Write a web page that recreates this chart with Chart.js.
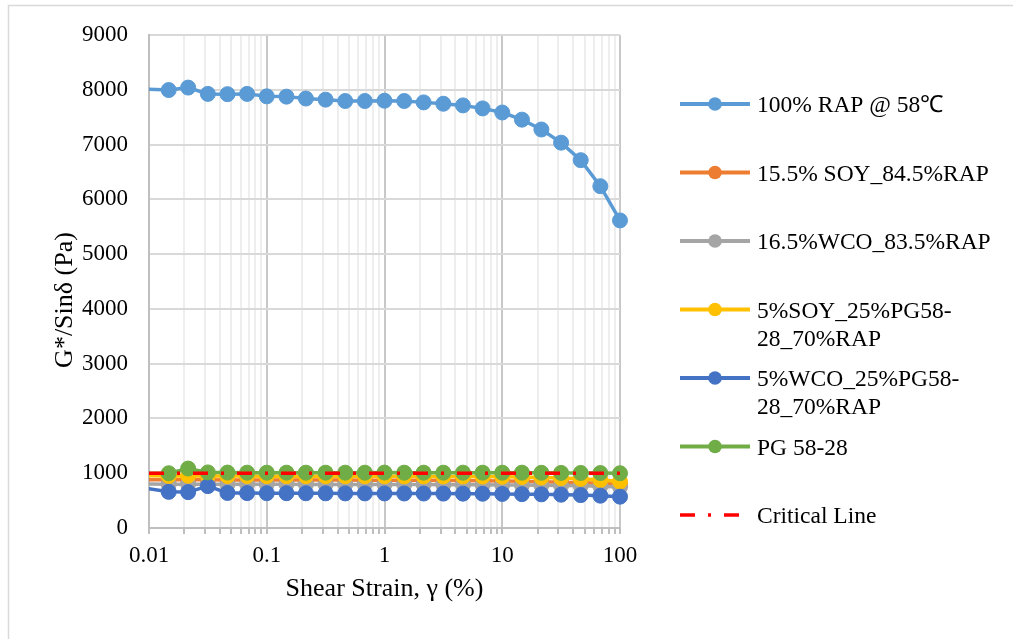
<!DOCTYPE html>
<html>
<head>
<meta charset="utf-8">
<script src="https://cdn.jsdelivr.net/npm/chart.js@4.4.1/dist/chart.umd.min.js"></script>
<style>
  body { margin: 0; background: #fff; }
  #wrap { width: 1013px; height: 639px; }
</style>
</head>
<body>
<div id="wrap"><canvas id="rheoChart" width="1013" height="639"></canvas></div>
<script>
// shear strain (%), 6 points per decade; first point lies just left of the 0.01 edge
const strain = [0.00681, 0.0147, 0.0215, 0.0316, 0.0464, 0.0681, 0.1, 0.147, 0.215, 0.316, 0.464, 0.681,
  1, 1.47, 2.15, 3.16, 4.64, 6.81, 10, 14.7, 21.5, 31.6, 46.4, 68.1, 100];

// G*/sin(delta) in Pa
const rap100 = [8025, 7995, 8040, 7925, 7920, 7925, 7880, 7875, 7840, 7820, 7795, 7795,
  7800, 7795, 7770, 7745, 7715, 7660, 7585, 7455, 7275, 7035, 6715, 6240, 5615];
const soy155 = [880, 880, 880, 880, 878, 878, 876, 876, 875, 875, 874, 873,
  872, 871, 870, 868, 866, 862, 858, 852, 845, 837, 828, 815, 800];
const wco165 = [805, 800, 800, 800, 798, 798, 797, 797, 796, 796, 795, 795,
  794, 793, 792, 791, 790, 788, 786, 783, 780, 775, 770, 762, 750];
const soy5pg = [955, 950, 955, 950, 948, 948, 947, 946, 946, 945, 945, 944,
  944, 943, 942, 941, 940, 938, 935, 930, 922, 912, 898, 878, 848];
const wco5pg = [770, 660, 655, 765, 640, 637, 635, 635, 634, 633, 632, 632,
  631, 630, 629, 628, 627, 625, 622, 618, 614, 608, 601, 590, 572];
const pg5828 = [1000, 1000, 1085, 1015, 1012, 1010, 1010, 1010, 1010, 1010, 1010, 1010,
  1012, 1010, 1010, 1010, 1010, 1010, 1010, 1010, 1008, 1006, 1005, 1003, 1000];

const criticalX = [0.01, 100];
const criticalY = [1000, 1000];

const seriesNames = ['100% RAP @ 58\u2103', '15.5% SOY_84.5%RAP', '16.5%WCO_83.5%RAP',
  '5%SOY_25%PG58-28_70%RAP', '5%WCO_25%PG58-28_70%RAP', 'PG 58-28', 'Critical Line'];
const seriesColors = ['#5B9BD5', '#ED7D31', '#A5A5A5', '#FFC000', '#4472C4', '#70AD47', '#FF0000'];

const yTickValues = [0, 1000, 2000, 3000, 4000, 5000, 6000, 7000, 8000, 9000];
const xTickLabels = ['0.01', '0.1', '1', '10', '100'];
const xAxisTitle = 'Shear Strain, \u03b3 (%)';
const yAxisTitle = 'G*/Sin\u03b4 (Pa)';

const serif = "'Liberation Serif', 'Times New Roman', serif";

function toPoints(xs, ys) {
  return xs.map((x, i) => ({ x: x, y: ys[i] }));
}

const allSeries = [rap100, soy155, wco165, soy5pg, wco5pg, pg5828];
const datasets = allSeries.map((vals, i) => ({
  label: seriesNames[i],
  data: toPoints(strain, vals),
  borderColor: seriesColors[i],
  backgroundColor: seriesColors[i],
  borderWidth: 3.5,
  pointRadius: 7.5,
  pointBorderWidth: 1,
  pointHoverRadius: 7.5,
  tension: 0,
  order: 6 - i,
  clip: { left: 0, top: false, right: false, bottom: false }
}));
datasets.push({
  label: seriesNames[6],
  data: toPoints(criticalX, criticalY),
  borderColor: seriesColors[6],
  backgroundColor: seriesColors[6],
  borderWidth: 3.5,
  borderDash: [15, 13, 3, 13],
  pointRadius: 0,
  order: 0
});

function isDecade(v) {
  const l = Math.log10(v);
  return Math.abs(l - Math.round(l)) < 1e-6;
}

// wrap a legend label at '-' or space, the way the spreadsheet legend does
function wrapLabel(ctx, text, maxW) {
  const lines = [];
  let rest = text;
  while (ctx.measureText(rest).width > maxW) {
    let cut = -1;
    for (let k = 1; k < rest.length; k++) {
      const ch = rest[k - 1];
      if ((ch === '-' || ch === ' ') && ctx.measureText(rest.slice(0, k)).width <= maxW) cut = k;
    }
    if (cut < 0) break;
    lines.push(rest.slice(0, cut).trim());
    rest = rest.slice(cut);
  }
  lines.push(rest);
  return lines;
}

const frame = {
  id: 'frame',
  beforeDraw(chart) {
    const ctx = chart.ctx;
    ctx.save();
    ctx.fillStyle = '#fff';
    ctx.fillRect(0, 0, chart.width, chart.height);
    ctx.strokeStyle = '#D9D9D9';
    ctx.lineWidth = 1.5;
    ctx.strokeRect(8.5, 5.5, chart.width + 20, chart.height + 20);
    ctx.restore();
  },
  afterDraw(chart) {
    // y title sits a bit below the plot's middle in the original
    const ctx = chart.ctx;
    ctx.save();
    ctx.font = '26px ' + serif;
    ctx.fillStyle = '#000';
    ctx.textAlign = 'center';
    ctx.textBaseline = 'middle';
    ctx.translate(65, 300);
    ctx.rotate(-Math.PI / 2);
    ctx.fillText(yAxisTitle, 0, 0);
    ctx.restore();
  }
};

const sideLegend = {
  id: 'sideLegend',
  afterDraw(chart) {
    const ctx = chart.ctx;
    ctx.save();
    ctx.font = '23.5px ' + serif;
    ctx.textBaseline = 'middle';
    chart.data.datasets.forEach((ds, i) => {
      const y = 104 + i * 68.5;
      ctx.strokeStyle = ds.borderColor;
      ctx.lineWidth = ds.borderDash ? 3.5 : 4;
      ctx.setLineDash(ds.borderDash || []);
      ctx.beginPath();
      ctx.moveTo(680, y);
      ctx.lineTo(ds.borderDash ? 739 : 750, y);
      ctx.stroke();
      ctx.setLineDash([]);
      if (ds.pointRadius > 0) {
        ctx.fillStyle = ds.backgroundColor;
        ctx.beginPath();
        ctx.arc(715, y, 6.8, 0, Math.PI * 2);
        ctx.fill();
      }
      ctx.fillStyle = '#000';
      wrapLabel(ctx, ds.label, 240).forEach((line, k) => {
        ctx.fillText(line, 757, y + 2 + k * 28);
      });
    });
    ctx.restore();
  }
};

const ctx = document.getElementById('rheoChart').getContext('2d');
const myChart = new Chart(ctx, {
  type: 'line',
  data: { datasets: datasets },
  plugins: [frame, sideLegend],
  options: {
    responsive: false,
    animation: false,
    layout: { padding: { left: 20, top: 35, right: 393, bottom: 21 } },
    plugins: {
      legend: { display: false },
      tooltip: { enabled: false }
    },
    scales: {
      x: {
        type: 'logarithmic',
        min: 0.01,
        max: 100,
        afterFit: s => { s.height = 90; },
        afterBuildTicks: s => {
          const ticks = [];
          for (let e = -2; e <= 2; e++) {
            for (let m = 1; m <= 9; m++) {
              const v = m * Math.pow(10, e);
              if (v <= 100.0001) ticks.push({ value: v });
            }
          }
          s.ticks = ticks;
        },
        ticks: {
          autoSkip: false,
          maxRotation: 0,
          padding: 8,
          color: '#000',
          font: { family: serif, size: 23 },
          callback: v => {
            const lbl = xTickLabels.find(t => Math.abs(parseFloat(t) - v) < 1e-9);
            return lbl || '';
          }
        },
        grid: {
          drawTicks: true,
          tickLength: 6,
          lineWidth: 2,
          color: c => isDecade(c.tick.value) ? '#C8C8C8' : '#EEEEEE',
          tickColor: '#BFBFBF'
        },
        border: { color: '#BFBFBF', width: 2 },
        title: {
          display: true,
          text: xAxisTitle,
          color: '#000',
          font: { family: serif, size: 26 },
          padding: { top: 0, bottom: 13 }
        }
      },
      y: {
        min: 0,
        max: 9000,
        afterFit: s => { s.width = 129; },
        afterBuildTicks: s => { s.ticks = yTickValues.map(v => ({ value: v })); },
        ticks: {
          padding: 21,
          color: '#000',
          font: { family: serif, size: 23 },
          callback: v => String(v)
        },
        grid: { drawTicks: false, lineWidth: 2, color: '#D9D9D9' },
        border: { color: '#BFBFBF', width: 2 }
      }
    }
  }
});
</script>
</body>
</html>
